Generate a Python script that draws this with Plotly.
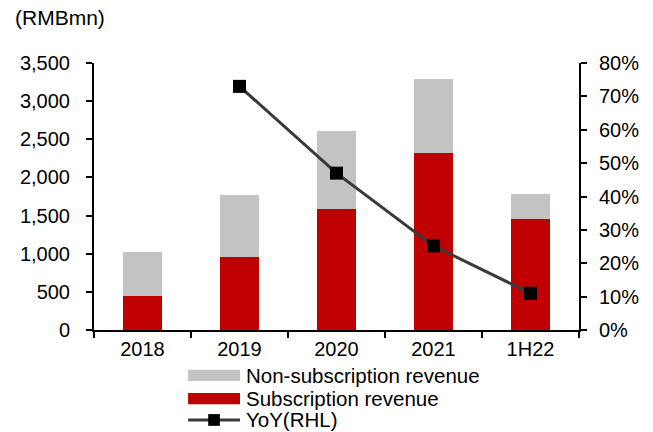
import plotly.graph_objects as go

# dados (RMBmn)
periods = ["2018", "2019", "2020", "2021", "1H22"]
subscription = [446, 954, 1592, 2319, 1457]
non_subscription = [574, 818, 1020, 966, 323]
yoy_periods = ["2019", "2020", "2021", "1H22"]
yoy = [0.73, 0.47, 0.252, 0.11]

legend_labels = ["Non-subscription revenue", "Subscription revenue", "YoY(RHL)"]

RED = "#C00000"
GRAY = "#C3C3C3"
LINE = "#3A3A3A"
FONT = "Liberation Sans, Arial, sans-serif"

fig = go.Figure()
fig.add_trace(go.Bar(x=periods, y=subscription, name=legend_labels[1],
                     marker=dict(color=RED, line=dict(width=0)), showlegend=False))
fig.add_trace(go.Bar(x=periods, y=non_subscription, name=legend_labels[0],
                     marker=dict(color=GRAY, line=dict(width=0)), showlegend=False))
fig.add_trace(go.Scatter(x=yoy_periods, y=yoy, name=legend_labels[2], yaxis="y2",
                         mode="lines+markers",
                         line=dict(color=LINE, width=3),
                         marker=dict(symbol="square", size=13, color="black"),
                         showlegend=False))

axis_common = dict(showline=True, linecolor="black", linewidth=2, ticks="outside",
                   tickcolor="black", tickwidth=2, ticklen=6, showgrid=False,
                   zeroline=False, tickfont=dict(size=20, color="black", family=FONT))

fig.update_layout(
    barmode="stack",
    bargap=0.6,
    width=653, height=432,
    margin=dict(l=94, r=74, t=63, b=102),
    plot_bgcolor="white", paper_bgcolor="white",
    font=dict(family=FONT, size=20, color="black"),
    xaxis=dict(**axis_common, tickson="boundaries"),
    yaxis=dict(**axis_common, range=[0, 3500], dtick=500, tickformat=",",
               ticklabelstandoff=12),
    yaxis2=dict(**axis_common, overlaying="y", side="right", range=[0, 0.8],
                dtick=0.1, tickformat=".0%", ticklabelstandoff=8),
)

fig.add_annotation(text="(RMBmn)", xref="paper", yref="paper", x=-0.168, y=1.172,
                   xanchor="left", yanchor="middle", showarrow=False,
                   font=dict(size=21, family=FONT))

# legenda manual embaixo do gráfico
sym_x0, sym_x1, txt_x = 0.194, 0.301, 0.309
rows = [-0.170, -0.257, -0.337]
colors = [GRAY, RED]
for i, lab in enumerate(legend_labels):
    yy = rows[i]
    if i < 2:
        fig.add_shape(type="rect", xref="paper", yref="paper",
                      x0=sym_x0, x1=sym_x1, y0=yy - 0.021, y1=yy + 0.021,
                      fillcolor=colors[i], line=dict(width=0))
    else:
        fig.add_shape(type="line", xref="paper", yref="paper",
                      x0=sym_x0, x1=sym_x1, y0=yy, y1=yy,
                      line=dict(color=LINE, width=3))
        fig.add_shape(type="rect", xref="paper", yref="paper",
                      x0=0.2475 - 0.012, x1=0.2475 + 0.012, y0=yy - 0.022, y1=yy + 0.022,
                      fillcolor="black", line=dict(width=0))
    fig.add_annotation(text=lab, xref="paper", yref="paper", x=txt_x, y=yy,
                       xanchor="left", yanchor="middle", showarrow=False,
                       font=dict(size=20.5, family=FONT))

# tira a margem padrão do body para o gráfico ficar alinhado em (0, 0)
fig.write_html("out.html", config={"displayModeBar": False},
               post_script="document.body.style.margin='0';")
